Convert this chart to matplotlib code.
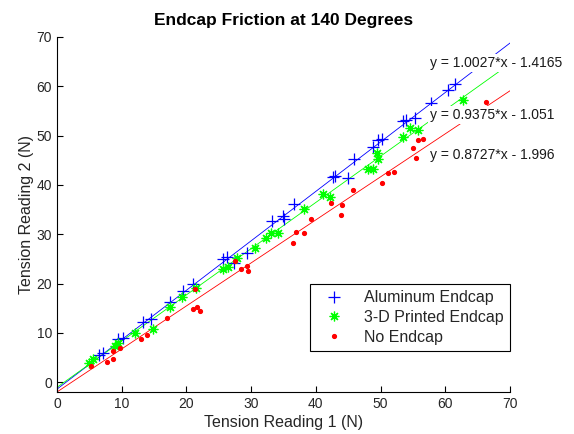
import matplotlib
matplotlib.use("Agg")
import matplotlib.pyplot as plt
import numpy as np

plt.rcParams['font.family'] = ['Liberation Sans', 'DejaVu Sans']

# ---- data ----
alu_x = [6.5, 7.1, 9.4, 10.2, 13.3, 14.5, 17.5, 19.5, 21.0, 25.7, 26.3, 27.4, 29.4,
         33.2, 34.9, 35.1, 36.6, 42.6, 43.0, 45.0, 45.9, 48.8, 49.6, 50.2, 53.5,
         54.0, 55.3, 57.8, 60.4, 61.5]
alu_y = [5.5, 5.9, 8.7, 8.9, 12.2, 12.8, 16.3, 18.5, 19.9, 25.0, 25.4, 24.2, 26.2,
         32.7, 33.7, 33.1, 36.2, 41.6, 41.9, 41.5, 45.3, 47.6, 49.2, 49.4, 53.0,
         53.1, 53.6, 56.7, 59.3, 60.4]

pr_x = [5.0, 5.6, 9.0, 9.4, 12.1, 14.8, 17.5, 19.3, 21.5, 25.7, 26.4, 27.8, 30.6,
        32.3, 33.1, 34.2, 38.2, 41.1, 42.2, 48.1, 48.8, 49.5, 49.6, 53.5, 54.6,
        55.8, 62.8]
pr_y = [3.8, 4.6, 7.4, 7.9, 10.0, 10.8, 15.3, 17.2, 19.0, 23.0, 23.4, 25.2, 27.3,
        29.3, 30.3, 30.3, 35.2, 38.2, 37.6, 43.3, 43.3, 46.5, 45.3, 49.8, 51.5,
        51.2, 57.3]

no_x = [5.2, 7.7, 8.7, 8.7, 9.7, 13.0, 13.9, 17.0, 21.0, 21.3, 21.6, 22.1, 27.5,
        28.4, 29.4, 29.5, 36.5, 36.9, 38.2, 39.2, 42.3, 43.9, 44.0, 45.7, 50.2,
        51.2, 52.1, 55.0, 55.5, 55.8, 56.6, 66.3]
no_y = [3.3, 4.1, 4.7, 6.3, 6.9, 8.7, 9.5, 13.0, 14.8, 18.8, 15.3, 14.4, 24.6,
        23.0, 23.6, 22.6, 28.3, 30.5, 30.3, 33.0, 36.4, 33.9, 36.0, 39.0, 40.4,
        42.5, 42.7, 47.4, 45.5, 49.2, 49.4, 56.9]

# fit coefficients (slope, intercept) as shown on the chart
fit_slopes = [1.0027, 0.9375, 0.8727]
fit_intercepts = [-1.4165, -1.051, -1.996]
fit_labels = ["y = 1.0027*x - 1.4165", "y = 0.9375*x - 1.051", "y = 0.8727*x - 1.996"]
fit_label_y = [64.8, 54.1, 46.1]
fit_range = [0, 70]

series_names = ["Aluminum Endcap", "3-D Printed Endcap", "No Endcap"]
colors = ["#0000ff", "#00ff00", "#ff0000"]

fig = plt.figure(figsize=(5.74, 4.34), dpi=100)
ax = fig.add_axes([57/574, 1-392/434, (510-57)/574, (392-37)/434])

xs = np.array(fit_range, dtype=float)
for m, b, c in zip(fit_slopes, fit_intercepts, colors):
    ax.plot(xs, m*xs + b, color=c, lw=0.6, zorder=2)

h1, = ax.plot(alu_x, alu_y, '+', color=colors[0], ms=8.5, mew=0.9, ls='none', zorder=3)
h2, = ax.plot(pr_x, pr_y, marker=(8, 2, 0), color=colors[1], ms=7, mew=0.9,
              ls='none', zorder=3)
h3, = ax.plot(no_x, no_y, '.', color=colors[2], ms=5.5, ls='none', zorder=3)

for lab, yy in zip(fit_labels, fit_label_y):
    ax.text(57.7, yy, lab, fontsize=10, ha='left', va='center', color='#1a1a1a',
            bbox=dict(facecolor='white', edgecolor='none', pad=1.5), zorder=4,
            clip_on=False)

ax.set_xlim(0, 70)
ax.set_ylim(-2, 70)
ax.set_xticks(np.arange(0, 71, 10))
ax.set_yticks(np.arange(0, 71, 10))
ax.spines['top'].set_visible(False)
ax.spines['right'].set_visible(False)
ax.tick_params(direction='in', length=4, labelsize=10, labelcolor='#262626',
               top=False, right=False)
ax.set_xlabel("Tension Reading 1 (N)", fontsize=11.5, color='#262626', labelpad=3)
ax.set_ylabel("Tension Reading 2 (N)", fontsize=11.5, color='#262626', labelpad=2)
ax.set_title("Endcap Friction at 140 Degrees", fontsize=12.5, fontweight='bold', pad=9)

leg = ax.legend([h1, h2, h3], series_names, loc='lower right',
                bbox_to_anchor=(1.0, 0.115), borderaxespad=0, fontsize=11.5,
                fancybox=False, edgecolor='black', framealpha=1, handlelength=2.2,
                handletextpad=0.8, borderpad=0.4, labelspacing=0.3)
leg.get_frame().set_linewidth(0.8)
for t in leg.get_texts():
    t.set_color('#262626')

fig.savefig("out.png", dpi=100)
